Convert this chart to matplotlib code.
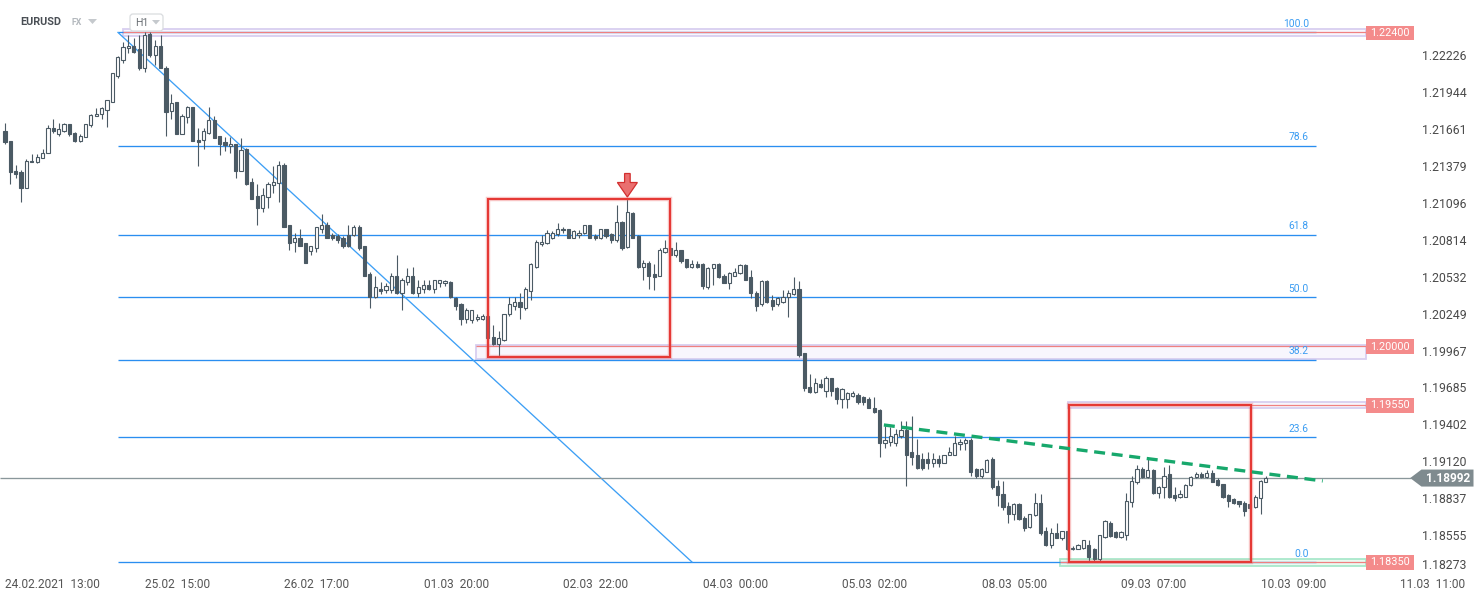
import numpy as np
import matplotlib
matplotlib.use("Agg")
import matplotlib.pyplot as plt
from matplotlib.patches import Rectangle, Polygon, FancyBboxPatch
from matplotlib.transforms import Affine2D, ScaledTranslation

plt.rcParams['font.family'] = ['Roboto', 'DejaVu Sans']

# ---------------- data (EURUSD H1) ----------------
opens = [
    1.2165, 1.2157, 1.2134, 1.2133, 1.2121, 1.2142, 1.2141, 1.2144, 1.2148, 1.2167,
    1.2162, 1.2165, 1.2170, 1.2163, 1.2157, 1.2160, 1.2169, 1.2176, 1.2178, 1.2181,
    1.2187, 1.2207, 1.2219, 1.2228, 1.2230, 1.2227, 1.2213, 1.2239, 1.2223, 1.2230,
    1.2213, 1.2180, 1.2187, 1.2162, 1.2175, 1.2183, 1.2158, 1.2158, 1.2163, 1.2173,
    1.2161, 1.2156, 1.2153, 1.2155, 1.2134, 1.2151, 1.2126, 1.2115, 1.2106, 1.2114,
    1.2123, 1.2125, 1.2139, 1.2093, 1.2080, 1.2083, 1.2079, 1.2073, 1.2075, 1.2090,
    1.2093, 1.2085, 1.2084, 1.2083, 1.2085, 1.2085, 1.2091, 1.2077, 1.2055, 1.2038,
    1.2044, 1.2043, 1.2043, 1.2054, 1.2041, 1.2049, 1.2054, 1.2041, 1.2044, 1.2047,
    1.2044, 1.2048, 1.2048, 1.2049, 1.2037, 1.2032, 1.2021, 1.2020, 1.2021, 1.2021,
    1.2023, 1.2007, 1.2002, 1.2005, 1.2025, 1.2031, 1.2034, 1.2029, 1.2042, 1.2061,
    1.2078, 1.2079, 1.2083, 1.2086, 1.2090, 1.2090, 1.2083, 1.2085, 1.2087, 1.2093,
    1.2084, 1.2083, 1.2090, 1.2086, 1.2081, 1.2095, 1.2076, 1.2102, 1.2084, 1.2061,
    1.2064, 1.2055, 1.2054, 1.2072, 1.2075, 1.2070, 1.2074, 1.2067, 1.2061, 1.2063,
    1.2063, 1.2045, 1.2060, 1.2063, 1.2054, 1.2048, 1.2054, 1.2056, 1.2062, 1.2053,
    1.2041, 1.2032, 1.2050, 1.2035, 1.2032, 1.2034, 1.2038, 1.2040, 1.2044, 1.1995,
    1.1969, 1.1965, 1.1971, 1.1966, 1.1976, 1.1968, 1.1960, 1.1960, 1.1962, 1.1963,
    1.1961, 1.1960, 1.1953, 1.1951, 1.1926, 1.1927, 1.1926, 1.1931, 1.1936, 1.1919,
    1.1917, 1.1914, 1.1914, 1.1911, 1.1914, 1.1911, 1.1917, 1.1917, 1.1925, 1.1926,
    1.1928, 1.1906, 1.1901, 1.1904, 1.1914, 1.1893, 1.1887, 1.1878, 1.1872, 1.1879,
    1.1869, 1.1862, 1.1871, 1.1880, 1.1859, 1.1848, 1.1857, 1.1853, 1.1859, 1.1845,
    1.1845, 1.1846, 1.1848, 1.1845, 1.1837, 1.1854, 1.1865, 1.1858, 1.1854, 1.1856,
    1.1881, 1.1896, 1.1906, 1.1900, 1.1905, 1.1888, 1.1892, 1.1902, 1.1886, 1.1885,
    1.1885, 1.1894, 1.1900, 1.1902, 1.1900, 1.1903, 1.1898, 1.1895, 1.1886, 1.1883,
    1.1882, 1.1880, 1.1879, 1.1877, 1.1884, 1.1896,
]
highs = [
    1.2171, 1.2157, 1.2139, 1.2135, 1.2143, 1.2147, 1.2147, 1.2151, 1.2169, 1.2174,
    1.2171, 1.2171, 1.2170, 1.2164, 1.2162, 1.2170, 1.2178, 1.2182, 1.2183, 1.2188,
    1.2209, 1.2222, 1.2233, 1.2238, 1.2236, 1.2238, 1.2240, 1.2240, 1.2234, 1.2238,
    1.2214, 1.2193, 1.2187, 1.2178, 1.2184, 1.2183, 1.2167, 1.2167, 1.2183, 1.2176,
    1.2161, 1.2160, 1.2160, 1.2155, 1.2159, 1.2152, 1.2129, 1.2124, 1.2121, 1.2126,
    1.2138, 1.2142, 1.2140, 1.2093, 1.2087, 1.2090, 1.2079, 1.2077, 1.2091, 1.2101,
    1.2095, 1.2087, 1.2086, 1.2084, 1.2093, 1.2093, 1.2093, 1.2077, 1.2057, 1.2054,
    1.2049, 1.2048, 1.2056, 1.2070, 1.2052, 1.2060, 1.2061, 1.2051, 1.2051, 1.2051,
    1.2051, 1.2051, 1.2051, 1.2050, 1.2038, 1.2033, 1.2029, 1.2028, 1.2025, 1.2025,
    1.2024, 1.2016, 1.2012, 1.2025, 1.2038, 1.2038, 1.2041, 1.2045, 1.2064, 1.2081,
    1.2085, 1.2089, 1.2088, 1.2094, 1.2091, 1.2090, 1.2089, 1.2089, 1.2093, 1.2093,
    1.2086, 1.2090, 1.2090, 1.2087, 1.2108, 1.2096, 1.2113, 1.2103, 1.2085, 1.2066,
    1.2065, 1.2063, 1.2075, 1.2081, 1.2076, 1.2080, 1.2074, 1.2067, 1.2066, 1.2065,
    1.2064, 1.2061, 1.2063, 1.2064, 1.2055, 1.2057, 1.2060, 1.2063, 1.2063, 1.2058,
    1.2042, 1.2051, 1.2051, 1.2039, 1.2038, 1.2043, 1.2043, 1.2053, 1.2050, 1.1995,
    1.1979, 1.1976, 1.1975, 1.1977, 1.1976, 1.1969, 1.1968, 1.1965, 1.1966, 1.1964,
    1.1962, 1.1961, 1.1961, 1.1952, 1.1939, 1.1938, 1.1937, 1.1943, 1.1943, 1.1947,
    1.1929, 1.1918, 1.1919, 1.1918, 1.1917, 1.1917, 1.1923, 1.1931, 1.1929, 1.1930,
    1.1930, 1.1907, 1.1907, 1.1914, 1.1915, 1.1898, 1.1897, 1.1881, 1.1880, 1.1880,
    1.1870, 1.1872, 1.1888, 1.1887, 1.1862, 1.1861, 1.1865, 1.1859, 1.1859, 1.1847,
    1.1849, 1.1852, 1.1852, 1.1846, 1.1856, 1.1867, 1.1866, 1.1859, 1.1859, 1.1888,
    1.1901, 1.1909, 1.1908, 1.1915, 1.1906, 1.1893, 1.1908, 1.1909, 1.1892, 1.1890,
    1.1895, 1.1901, 1.1904, 1.1904, 1.1905, 1.1905, 1.1899, 1.1895, 1.1887, 1.1884,
    1.1882, 1.1882, 1.1879, 1.1886, 1.1898, 1.1901,
]
lows = [
    1.2155, 1.2124, 1.2129, 1.2110, 1.2121, 1.2141, 1.2140, 1.2144, 1.2148, 1.2163,
    1.2161, 1.2164, 1.2161, 1.2156, 1.2156, 1.2160, 1.2168, 1.2176, 1.2174, 1.2168,
    1.2187, 1.2205, 1.2217, 1.2224, 1.2224, 1.2211, 1.2210, 1.2221, 1.2215, 1.2213,
    1.2161, 1.2174, 1.2162, 1.2162, 1.2171, 1.2157, 1.2138, 1.2151, 1.2162, 1.2159,
    1.2146, 1.2149, 1.2148, 1.2129, 1.2134, 1.2123, 1.2113, 1.2093, 1.2103, 1.2106,
    1.2117, 1.2110, 1.2091, 1.2074, 1.2072, 1.2077, 1.2064, 1.2070, 1.2072, 1.2087,
    1.2083, 1.2081, 1.2079, 1.2075, 1.2076, 1.2084, 1.2074, 1.2054, 1.2029, 1.2037,
    1.2040, 1.2041, 1.2041, 1.2040, 1.2028, 1.2047, 1.2040, 1.2038, 1.2041, 1.2043,
    1.2041, 1.2045, 1.2046, 1.2037, 1.2028, 1.2016, 1.2018, 1.2018, 1.2019, 1.2020,
    1.2005, 1.2001, 1.1992, 1.2004, 1.2023, 1.2028, 1.2021, 1.2028, 1.2035, 1.2060,
    1.2077, 1.2078, 1.2082, 1.2084, 1.2087, 1.2083, 1.2083, 1.2083, 1.2086, 1.2083,
    1.2081, 1.2082, 1.2083, 1.2079, 1.2080, 1.2074, 1.2075, 1.2083, 1.2060, 1.2051,
    1.2044, 1.2043, 1.2054, 1.2071, 1.2069, 1.2068, 1.2064, 1.2060, 1.2060, 1.2060,
    1.2044, 1.2044, 1.2047, 1.2052, 1.2048, 1.2044, 1.2054, 1.2055, 1.2051, 1.2037,
    1.2027, 1.2031, 1.2033, 1.2028, 1.2031, 1.2033, 1.2022, 1.2039, 1.1992, 1.1966,
    1.1964, 1.1964, 1.1968, 1.1961, 1.1962, 1.1956, 1.1953, 1.1953, 1.1961, 1.1956,
    1.1955, 1.1953, 1.1949, 1.1915, 1.1922, 1.1924, 1.1924, 1.1930, 1.1893, 1.1909,
    1.1906, 1.1905, 1.1906, 1.1908, 1.1908, 1.1911, 1.1917, 1.1917, 1.1921, 1.1921,
    1.1901, 1.1899, 1.1899, 1.1904, 1.1891, 1.1878, 1.1875, 1.1865, 1.1867, 1.1867,
    1.1859, 1.1861, 1.1870, 1.1856, 1.1847, 1.1846, 1.1853, 1.1852, 1.1844, 1.1844,
    1.1845, 1.1845, 1.1836, 1.1836, 1.1836, 1.1853, 1.1854, 1.1853, 1.1853, 1.1852,
    1.1877, 1.1895, 1.1899, 1.1899, 1.1887, 1.1884, 1.1884, 1.1884, 1.1882, 1.1884,
    1.1885, 1.1893, 1.1899, 1.1899, 1.1899, 1.1896, 1.1893, 1.1884, 1.1877, 1.1879,
    1.1877, 1.1870, 1.1875, 1.1876, 1.1872, 1.1896,
]
closes = [
    1.2156, 1.2133, 1.2132, 1.2121, 1.2142, 1.2141, 1.2145, 1.2148, 1.2167, 1.2165,
    1.2166, 1.2170, 1.2162, 1.2157, 1.2161, 1.2170, 1.2177, 1.2178, 1.2182, 1.2188,
    1.2209, 1.2221, 1.2229, 1.2230, 1.2225, 1.2213, 1.2238, 1.2223, 1.2230, 1.2213,
    1.2179, 1.2186, 1.2162, 1.2176, 1.2183, 1.2157, 1.2156, 1.2165, 1.2173, 1.2159,
    1.2155, 1.2154, 1.2155, 1.2134, 1.2150, 1.2124, 1.2113, 1.2106, 1.2116, 1.2124,
    1.2126, 1.2139, 1.2091, 1.2079, 1.2083, 1.2077, 1.2064, 1.2077, 1.2091, 1.2093,
    1.2083, 1.2083, 1.2081, 1.2077, 1.2077, 1.2091, 1.2075, 1.2054, 1.2038, 1.2045,
    1.2042, 1.2046, 1.2054, 1.2041, 1.2051, 1.2054, 1.2041, 1.2045, 1.2047, 1.2044,
    1.2051, 1.2051, 1.2050, 1.2038, 1.2031, 1.2021, 1.2028, 1.2028, 1.2022, 1.2023,
    1.2006, 1.2002, 1.2006, 1.2025, 1.2032, 1.2034, 1.2030, 1.2044, 1.2063, 1.2080,
    1.2080, 1.2087, 1.2087, 1.2090, 1.2089, 1.2083, 1.2088, 1.2087, 1.2093, 1.2083,
    1.2083, 1.2090, 1.2084, 1.2081, 1.2095, 1.2075, 1.2103, 1.2083, 1.2061, 1.2064,
    1.2054, 1.2053, 1.2074, 1.2075, 1.2070, 1.2074, 1.2065, 1.2061, 1.2063, 1.2061,
    1.2046, 1.2060, 1.2063, 1.2053, 1.2048, 1.2056, 1.2057, 1.2062, 1.2051, 1.2041,
    1.2031, 1.2050, 1.2034, 1.2031, 1.2037, 1.2038, 1.2041, 1.2044, 1.1993, 1.1968,
    1.1965, 1.1972, 1.1969, 1.1976, 1.1966, 1.1960, 1.1967, 1.1964, 1.1964, 1.1957,
    1.1957, 1.1953, 1.1950, 1.1926, 1.1928, 1.1931, 1.1933, 1.1936, 1.1917, 1.1915,
    1.1907, 1.1907, 1.1911, 1.1914, 1.1911, 1.1917, 1.1919, 1.1926, 1.1927, 1.1928,
    1.1904, 1.1901, 1.1906, 1.1913, 1.1892, 1.1886, 1.1877, 1.1872, 1.1879, 1.1868,
    1.1861, 1.1872, 1.1880, 1.1857, 1.1848, 1.1857, 1.1853, 1.1859, 1.1845, 1.1846,
    1.1848, 1.1852, 1.1839, 1.1837, 1.1856, 1.1866, 1.1855, 1.1854, 1.1858, 1.1882,
    1.1897, 1.1906, 1.1900, 1.1905, 1.1888, 1.1892, 1.1901, 1.1885, 1.1884, 1.1887,
    1.1894, 1.1900, 1.1902, 1.1900, 1.1903, 1.1896, 1.1894, 1.1885, 1.1882, 1.1880,
    1.1879, 1.1874, 1.1876, 1.1885, 1.1897, 1.1899,
]

time_labels = ["24.02.2021  13:00", "25.02  15:00", "26.02  17:00", "01.03  20:00",
               "02.03  22:00", "04.03  00:00", "05.03  02:00", "08.03  05:00",
               "09.03  07:00", "10.03  09:00", "11.03  11:00"]
bars_per_label = 26
price_ticks = [1.22226, 1.21944, 1.21661, 1.21379, 1.21096, 1.20814, 1.20532,
               1.20249, 1.19967, 1.19685, 1.19402, 1.19120, 1.18837, 1.18555, 1.18273]

fib_low, fib_high = 1.18350, 1.22400
fib_ratios = [0.0, 23.6, 38.2, 50.0, 61.8, 78.6, 100.0]
fib_start_bar, fib_end_bar, fib_diag_end_bar = 21.06, 244.3, 128.03

levels = [1.22400, 1.20000, 1.19550, 1.18350]
level_start_bar = [21.9, 87.8, 198.1, 196.6]
level_band = [(1.22373, 1.22423), (1.19906, 1.20012), (1.19526, 1.19572), (1.18320, 1.18373)]
level_band_kind = ['lav', 'lav', 'lav', 'green']
level_end_bar = 253.6
last_price = 1.18992

trend_x = [163.8, 245.6]
trend_y = [1.19398, 1.18970]
box1 = (90.0, 123.9, 1.19918, 1.21126)
box2 = (198.3, 232.2, 1.18350, 1.19551)
signal_bar = 116

# ---------------- figure ----------------
W, H = 1482, 598
fig = plt.figure(figsize=(W / 100, H / 100), dpi=100)
ax = fig.add_axes([0, (H - 575) / H, 1400 / W, 575 / H])
ax.set_xlim(-0.932, 260.0)
ax.set_ylim(1.182506, 1.226482)
for s in ax.spines.values():
    s.set_visible(False)
ax.set_facecolor('white')

DARK = '#4b5a64'
BLUE = '#2a8ef0'
RED = '#ee5a5a'
T_img = Affine2D().scale(1, -1).translate(0, H)   # image pixel coords (y down)

# fib levels
fib_span = fib_high - fib_low
for r in fib_ratios:
    p = fib_low + r / 100.0 * fib_span
    ax.hlines(p, fib_start_bar, fib_end_bar, color=BLUE, lw=0.95, zorder=2)
    ax.annotate(f'{r:.1f}', xy=(fib_end_bar - 1.3, p), xytext=(0, 2.5),
                textcoords='offset points', ha='right', va='bottom',
                fontsize=7.4, color='#3a9cf2', zorder=8)
ax.plot([fib_start_bar, fib_diag_end_bar], [fib_high, fib_low], color='#3d9ff5',
        lw=0.95, zorder=2)

# horizontal levels with bands
for lv, x0, (b0, b1), kind in zip(levels, level_start_bar, level_band, level_band_kind):
    if kind == 'lav':
        fc, ec = '#f8f6fd', '#d8cff0'
    else:
        fc, ec = '#eafaf2', '#a9e8cb'
    ax.add_patch(Rectangle((x0, b0), level_end_bar - x0, b1 - b0, facecolor=fc,
                           edgecolor=ec, lw=1.3, zorder=1.5))
    ax.hlines(lv, x0, level_end_bar, color='#f08080', lw=0.9, zorder=2.5)
    # price label box
    ax.add_patch(Rectangle((level_end_bar, lv - 0.00058), 8.95, 0.00110,
                           facecolor='#f48b8b', edgecolor='none', zorder=9,
                           clip_on=False))
    ax.text(level_end_bar + 4.47, lv - 0.00003, f'{lv:.5f}', ha='center', va='center',
            fontsize=7.8, color='white', zorder=10, clip_on=False)

# current price line + label
ax.hlines(last_price, -0.932, 262.0, color='#8a979b', lw=0.95, zorder=2.6, clip_on=False)
ax.add_patch(Polygon([(261.9, last_price), (264.0, last_price + 0.00065),
                      (273.7, last_price + 0.00065), (273.7, last_price - 0.00065),
                      (264.0, last_price - 0.00065)], closed=True,
                     facecolor='#7f8b8f', edgecolor='none', zorder=9, clip_on=False))
ax.text(268.9, last_price - 0.00002, f'{last_price:.5f}', ha='center', va='center',
        fontsize=8.6, fontweight='bold', color='white', zorder=10, clip_on=False)

# candles
o = np.array(opens); h = np.array(highs); l = np.array(lows); c = np.array(closes)
idx = np.arange(len(c))
up = c >= o
ax.vlines(idx, l, h, color=DARK, lw=0.8, zorder=3)
bottom = np.minimum(o, c)
height = np.maximum(np.abs(c - o), 0.00003)
ax.bar(idx[up], height[up], bottom=bottom[up], width=0.6, facecolor='white',
       edgecolor=DARK, linewidth=0.8, zorder=4)
ax.bar(idx[~up], height[~up], bottom=bottom[~up], width=0.6, facecolor=DARK,
       edgecolor=DARK, linewidth=0.8, zorder=4)

# red rectangles
for (x0, x1, y0, y1) in (box1, box2):
    ax.add_patch(Rectangle((x0, y0), x1 - x0, y1 - y0, fill=False, edgecolor='#f06a6a',
                           lw=3.2, alpha=0.35, zorder=6))
    ax.add_patch(Rectangle((x0, y0), x1 - x0, y1 - y0, fill=False, edgecolor='#e53935',
                           lw=1.5, zorder=6.5))

# green dashed trend line
ax.plot(trend_x, trend_y, color='#17a86c', lw=2.4, ls=(0, (3.3, 2.0)), zorder=7,
        solid_capstyle='butt', dash_capstyle='butt')

# signal arrow above the spike high
arrow_px = np.array([(0, 1.5), (10, 16), (2.8, 16), (2.8, 25), (-2.8, 25),
                     (-2.8, 16), (-10, 16)]) / 100.0
arr_tr = fig.dpi_scale_trans + ScaledTranslation(signal_bar, highs[signal_bar], ax.transData)
fig.add_artist(Polygon(arrow_px, closed=True, facecolor='#ea6f6f', edgecolor='#d32f2f',
                       lw=0.9, transform=arr_tr, zorder=10))

# axes ticks
ax.set_xticks(np.arange(len(time_labels)) * bars_per_label)
ax.set_xticklabels(time_labels, ha='left', fontsize=8.6, color='#555555')
ax.tick_params(axis='x', length=0, pad=2)
ax.yaxis.tick_right()
ax.set_yticks(price_ticks)
ax.set_yticklabels([f'{t:.5f}' for t in price_ticks], fontsize=8.8, color='#4a4a4a')
ax.tick_params(axis='y', length=0, pad=15.5)
ax.get_yticklabels()[-1].set_va('bottom')

# header
fig.text(20 / W, 1 - 22 / H, 'EURUSD', fontsize=7.8, fontweight='bold', color='#4a4f55',
         va='center', ha='left')
fig.text(72 / W, 1 - 22.5 / H, 'FX', fontsize=6.3, fontweight='bold', color='#b3b8bd',
         va='center', ha='left')
fig.add_artist(Polygon([(88, 19), (97, 19), (92.5, 24)], closed=True, facecolor='#c5c9cd',
                       edgecolor='none', transform=T_img))
fig.add_artist(FancyBboxPatch((130, 14), 33, 17, boxstyle='round,pad=0,rounding_size=3',
                              facecolor='white', edgecolor='#d9dcdf', lw=0.9,
                              transform=T_img))
fig.text(135 / W, 1 - 22.5 / H, 'H1', fontsize=7.6, color='#6b7075', va='center', ha='left')
fig.add_artist(Polygon([(152, 20), (160, 20), (156, 24.5)], closed=True, facecolor='#c5c9cd',
                       edgecolor='none', transform=T_img))

fig.savefig('out.png', dpi=100, facecolor='white')
